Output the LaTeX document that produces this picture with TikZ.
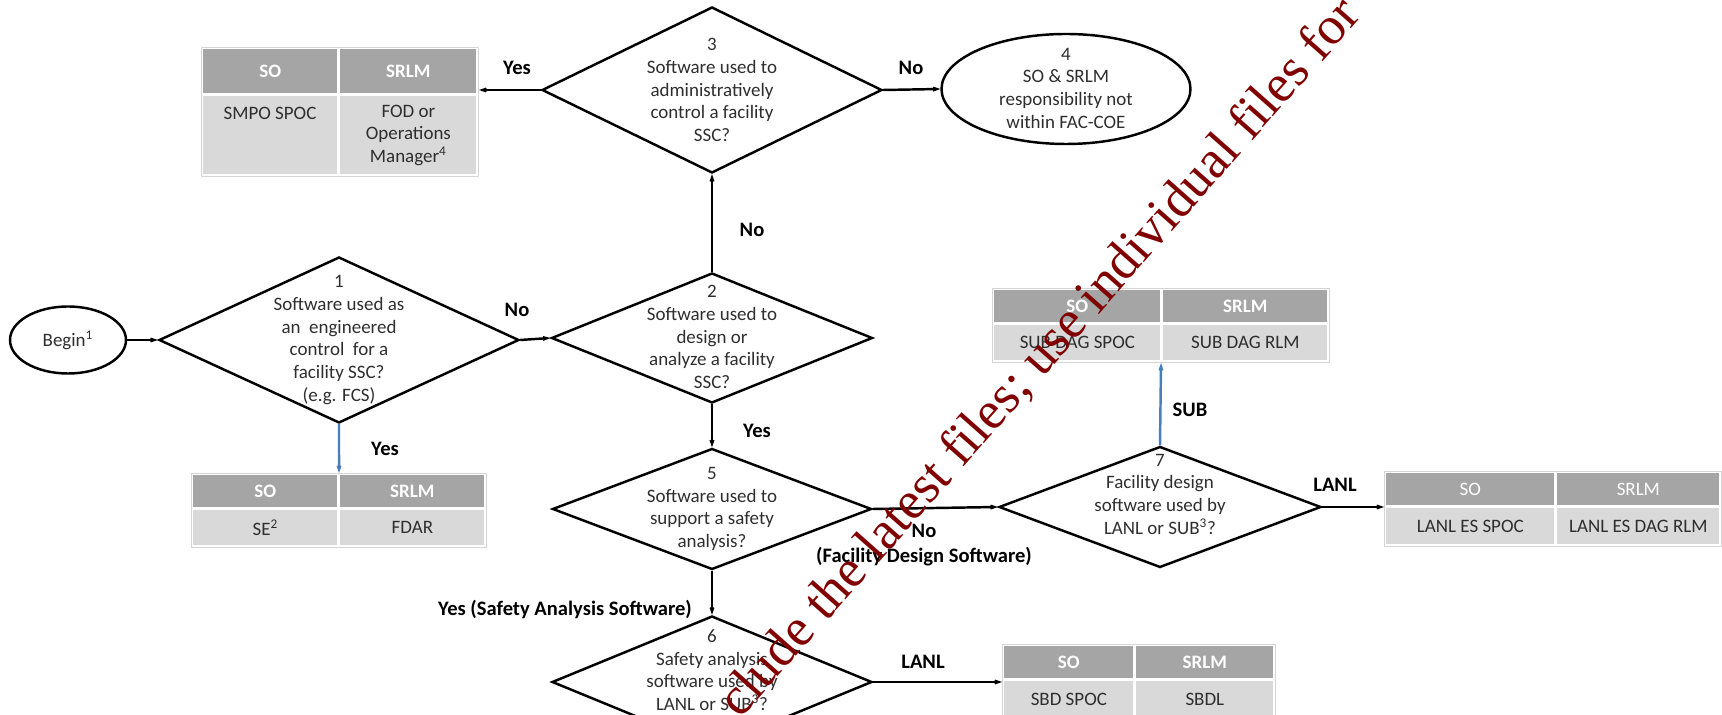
\documentclass[tikz,border=0pt]{standalone}
\usepackage{fontspec}
\setmainfont{Carlito}
\newfontfamily\wmfont{Liberation Serif}
\usetikzlibrary{shapes.geometric,arrows.meta}
\definecolor{hdrgray}{HTML}{A5A5A5}
\definecolor{bodygray}{HTML}{D9D9D9}
\definecolor{bordergray}{HTML}{D4D4D4}
\definecolor{txtgray}{HTML}{2E2E2E}
\definecolor{flowblue}{HTML}{4A7EBB}
\definecolor{wmred}{HTML}{800000}
\begin{document}
\begin{tikzpicture}[x=0.02cm,y=-0.02cm,
  sz/.style 2 args={minimum width=#1*0.02cm,minimum height=#2*0.02cm},
  dia/.style={diamond,draw=black,line width=1.4pt,inner sep=0pt},
  term/.style={ellipse,draw=black,line width=1.4pt,inner sep=0pt,text=txtgray,font=\fontsize{10.8}{12.9}\selectfont},
  dtext/.style={align=center,text=txtgray,font=\fontsize{10.8}{12.9}\selectfont,inner sep=0pt},
  lbl/.style={align=center,font=\fontsize{11.7}{14.2}\selectfont\bfseries,text=black,inner sep=0pt},
  arr/.style={line width=1.4pt,-{Stealth[length=8pt,width=5.6pt,inset=5pt]}},
  barr/.style={arr,draw=flowblue},
  tframe/.style={rectangle,draw=bordergray,line width=0.6pt,fill=white,inner sep=0pt,anchor=north west},
  hcell/.style={rectangle,fill=hdrgray,text=white,font=\fontsize{10.8}{12.9}\selectfont\bfseries,inner sep=0pt,anchor=north west},
  hcellr/.style={hcell,font=\fontsize{10.8}{12.9}\selectfont},
  bcell/.style={rectangle,fill=bodygray,text=txtgray,font=\fontsize{10.8}{12.9}\selectfont,inner sep=0pt,anchor=north west,align=center},
  btext/.style={text=txtgray,font=\fontsize{10.8}{12.9}\selectfont,inner sep=0pt},
  wm/.style={text=wmred,font=\wmfont\fontsize{30.5}{36}\selectfont,inner sep=0pt}
]
\useasboundingbox (0,0) rectangle (1722,715);
\clip (0,0) rectangle (1722,715);

% terminals
\node[term,sz={116}{67}] (begin) at (68,340) {Begin\textsuperscript{1}};
\node[term,sz={249}{110}] (e4) at (1066,89) {};
\node[dtext] (e4t) at (1066,88) {4\\SO \& SRLM\\responsibility not\\within FAC-COE};

% decisions
\node[dia,sz={360}{166}] (d1) at (339,340) {};
\node[dtext] (d1t) at (339,340) {1\\Software used as\\an\ \ engineered\\control\ \ for a\\facility SSC?\\(e.g. FCS)};
\node[dia,sz={321}{130}] (d2) at (712,338) {};
\node[dtext] (d2t) at (712,337) {2\\Software used to\\design or\\analyze a facility\\SSC?};
\node[dia,sz={340}{166}] (d3) at (712,90) {};
\node[dtext] (d3t) at (712,90) {3\\Software used to\\administratively\\control a facility\\SSC?};
\node[dia,sz={319}{121}] (d5) at (712,509) {};
\node[dtext] (d5t) at (712,509) {5\\Software used to\\support a safety\\analysis?};
\node[dia,sz={320}{132}] (d6) at (712,682) {};
\node[dtext] (d6t) at (712,670) {6\\Safety analysis\\software used by\\LANL or SUB\textsuperscript{3}?};
\node[dia,sz={322}{121}] (d7) at (1160,507) {};
\node[dtext] (d7t) at (1160,494) {7\\Facility design\\software used by\\LANL or SUB\textsuperscript{3}?};

% table A
\node[tframe,sz={277}{129}] (tA) at (201,47) {};
\node[hcell,sz={134}{44}] (tAh1) at (203,49) {SO};
\node[hcell,sz={136}{44}] (tAh2) at (340,49) {SRLM};
\node[bcell,sz={134}{78}] (tAb1) at (203,96) {};
\node[bcell,sz={136}{78}] (tAb2) at (340,96) {FOD or\\Operations\\Manager\textsuperscript{4}};
\node[btext] (tAb1t) at (270,113) {SMPO SPOC};

% table B
\node[tframe,sz={295}{74}] (tB) at (191,473) {};
\node[hcell,sz={144}{32}] (tBh1) at (193,475) {SO};
\node[hcell,sz={144}{32}] (tBh2) at (340,475) {SRLM};
\node[bcell,sz={144}{35}] (tBb1) at (193,510) {SE\textsuperscript{2}};
\node[bcell,sz={144}{35}] (tBb2) at (340,510) {FDAR};

% table C
\node[tframe,sz={337}{74}] (tC) at (992,288) {};
\node[hcell,sz={166}{32}] (tCh1) at (994,290) {SO};
\node[hcell,sz={164}{32}] (tCh2) at (1163,290) {SRLM};
\node[bcell,sz={166}{35}] (tCb1) at (994,325) {SUB DAG SPOC};
\node[bcell,sz={164}{35}] (tCb2) at (1163,325) {SUB DAG RLM};

% table D
\node[tframe,sz={337}{75}] (tD) at (1384,471) {};
\node[hcellr,sz={168}{32}] (tDh1) at (1386,473) {SO};
\node[hcellr,sz={162}{32}] (tDh2) at (1557,473) {SRLM};
\node[bcell,sz={168}{36}] (tDb1) at (1386,508) {LANL ES SPOC};
\node[bcell,sz={162}{36}] (tDb2) at (1557,508) {LANL ES DAG RLM};

% table E
\node[tframe,sz={273}{76}] (tE) at (1002,644) {};
\node[hcell,sz={129}{32}] (tEh1) at (1004,646) {SO};
\node[hcell,sz={137}{32}] (tEh2) at (1136,646) {SRLM};
\node[bcell,sz={129}{37}] (tEb1) at (1004,681) {SBD SPOC};
\node[bcell,sz={137}{37}] (tEb2) at (1136,681) {SBDL};

% connectors
\draw[arr] (begin.east) -- (d1.west);
\draw[arr] (d1.east) -- (d2.west);
\draw[arr] (d2.north) -- (d3.south);
\draw[arr] (d3.west) -- (d3.west -| tA.east);
\draw[arr] (d3.east) -- (e4.west);
\draw[barr] (d1.south) -- (tB.north);
\draw[arr] (d2.south) -- (d5.north);
\draw[arr] (d5.east) -- (d7.west);
\draw[arr] (d5.south) -- (d6.north);
\draw[barr] (d7.north) -- (tC.south);
\draw[arr] (d7.east) -- (d7.east -| tD.west);
\draw[arr] (d6.east) -- (d6.east -| tE.west);

% labels
\node[lbl] (l3y) at (517,68) {Yes};
\node[lbl] (l3n) at (911,68) {No};
\node[lbl] (l2n) at (752,230) {No};
\node[lbl] (l1n) at (517,310) {No};
\node[lbl] (l1y) at (385,449) {Yes};
\node[lbl] (l2y) at (757,431) {Yes};
\node[lbl] (l5n) at (924,545) {No\\(Facility Design Software)};
\node[lbl] (lsub) at (1190,410) {SUB};
\node[lbl] (l7l) at (1335,485) {LANL};
\node[lbl] (l5y) at (565,609) {Yes (Safety Analysis Software)};
\node[lbl] (l6l) at (923,662) {LANL};

% watermark
\node[wm,rotate=48.5,anchor=base west] (wmark) at (740,720) {clude the latest files; use individual files for};
\end{tikzpicture}
\end{document}
